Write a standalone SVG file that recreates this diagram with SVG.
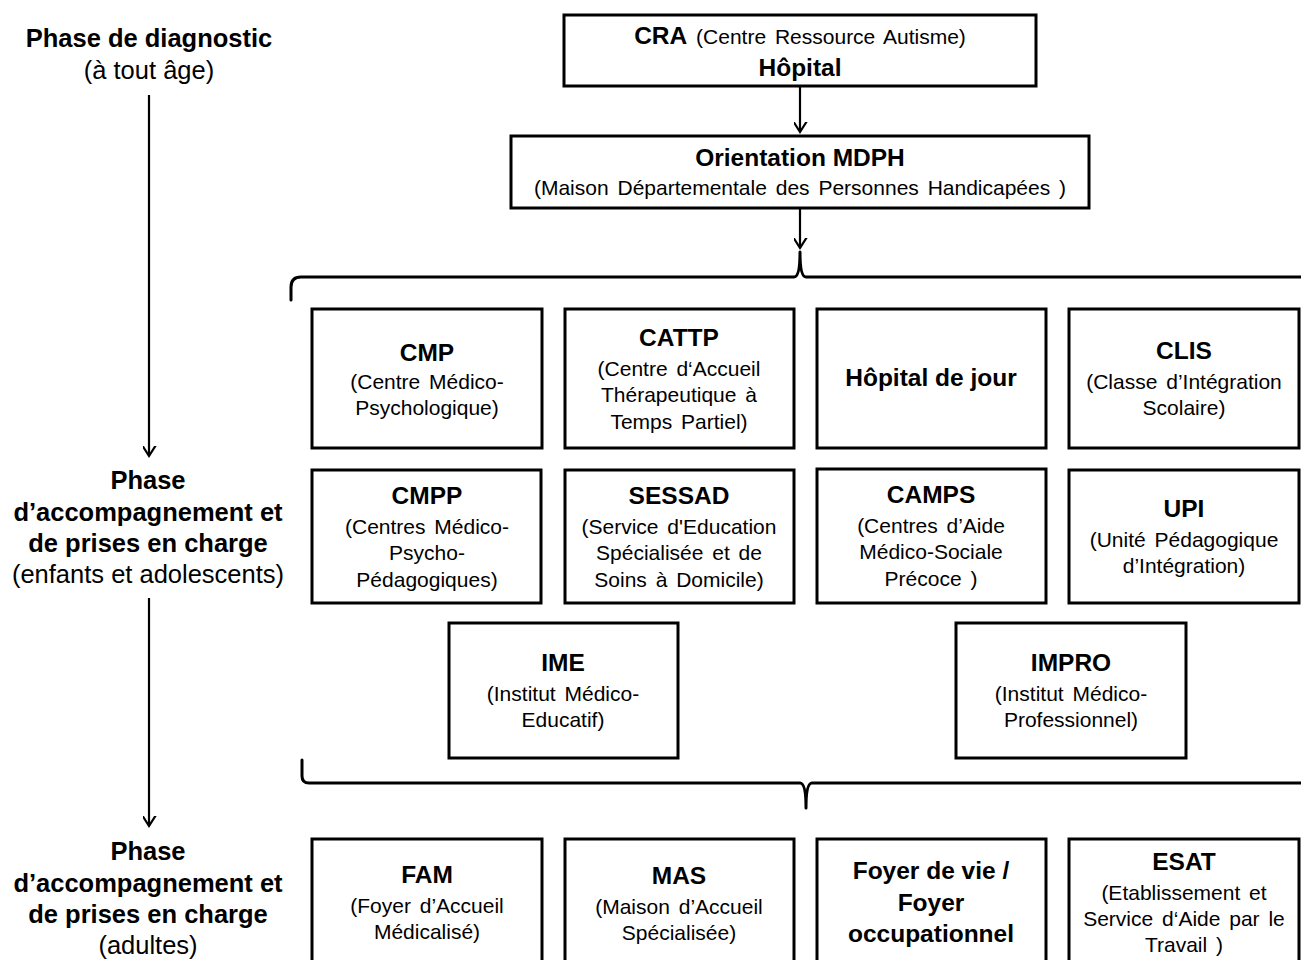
<svg xmlns="http://www.w3.org/2000/svg" width="1301" height="960" viewBox="0 0 1301 960">
<defs>
<style>
text{font-family:"Liberation Sans",Arial,sans-serif;fill:#000;text-anchor:middle}
.b{font-weight:bold;font-size:24.5px}
.r{font-size:21px;word-spacing:3px}
.lb{font-weight:bold;font-size:25.5px}
.lr{font-size:25.5px}
.box{fill:#fff;stroke:#000;stroke-width:3}
.ln{fill:none;stroke:#000;stroke-width:2.2}
.br{fill:none;stroke:#000;stroke-width:3;stroke-linecap:round;stroke-linejoin:round}
</style>
<marker id="arr" markerUnits="userSpaceOnUse" markerWidth="20" markerHeight="20" viewBox="-10 -14 20 20" refX="0" refY="0" orient="auto">
<path d="M-11,-7 L0,0 L-11,7" fill="none" stroke="#000" stroke-width="2.2" transform="rotate(0)"/>
</marker>
</defs>
<rect width="1301" height="960" fill="#fff"/>

<g id="phase1">
<text class="lb" x="149" y="47">Phase de diagnostic</text>
<text class="lr" x="149" y="79">(à tout âge)</text>
</g>
<g id="phase2">
<text class="lb" x="148" y="489">Phase</text>
<text class="lb" x="148" y="521">d’accompagnement et</text>
<text class="lb" x="148" y="552">de prises en charge</text>
<text class="lr" x="148" y="583">(enfants et adolescents)</text>
</g>
<g id="phase3">
<text class="lb" x="148" y="860">Phase</text>
<text class="lb" x="148" y="892">d’accompagnement et</text>
<text class="lb" x="148" y="923">de prises en charge</text>
<text class="lr" x="148" y="954">(adultes)</text>
</g>

<g id="connectors">
<line class="ln" x1="149" y1="95" x2="149" y2="456" marker-end="url(#arr)"/>
<line class="ln" x1="149" y1="598" x2="149" y2="826" marker-end="url(#arr)"/>
<line class="ln" x1="800" y1="87" x2="800" y2="132" marker-end="url(#arr)"/>
<line class="ln" x1="800" y1="209" x2="800" y2="248" marker-end="url(#arr)"/>
<path class="br" d="M291,300 L291,287 Q291,277 301,277 L794,277 Q800,277 800,252 Q800,277 806,277 L1302,277"/>
<path class="br" d="M302,760 L302,776 Q302,783 309,783 L800,783 Q806,783 806,808 Q806,783 812,783 L1302,783"/>
</g>

<g id="cra">
<rect class="box" x="564" y="15" width="472" height="71"/>
<text x="800" y="44"><tspan class="b">CRA</tspan><tspan class="r"> (Centre Ressource Autisme)</tspan></text>
<text class="b" x="800" y="76">Hôpital</text>
</g>
<g id="mdph">
<rect class="box" x="511" y="136" width="578" height="72"/>
<text class="b" x="800" y="166">Orientation MDPH</text>
<text class="r" x="800" y="195">(Maison Départementale des Personnes Handicapées )</text>
</g>

<g id="cmp">
<rect class="box" x="312" y="309" width="230" height="139"/>
<text class="b" x="427" y="361">CMP</text>
<text class="r" x="427" y="389">(Centre Médico-</text>
<text class="r" x="427" y="415">Psychologique)</text>
</g>
<g id="cattp">
<rect class="box" x="565" y="309" width="229" height="139"/>
<text class="b" x="679" y="346">CATTP</text>
<text class="r" x="679" y="376">(Centre d‘Accueil</text>
<text class="r" x="679" y="402">Thérapeutique  à</text>
<text class="r" x="679" y="429">Temps  Partiel)</text>
</g>
<g id="hdj">
<rect class="box" x="817" y="309" width="229" height="139"/>
<text class="b" x="931" y="386">Hôpital de jour</text>
</g>
<g id="clis">
<rect class="box" x="1069" y="309" width="230" height="139"/>
<text class="b" x="1184" y="359">CLIS</text>
<text class="r" x="1184" y="389">(Classe d’Intégration</text>
<text class="r" x="1184" y="415">Scolaire)</text>
</g>

<g id="cmpp">
<rect class="box" x="312" y="470" width="229" height="133"/>
<text class="b" x="427" y="504">CMPP</text>
<text class="r" x="427" y="534">(Centres Médico-</text>
<text class="r" x="427" y="560">Psycho-</text>
<text class="r" x="427" y="587">Pédagogiques)</text>
</g>
<g id="sessad">
<rect class="box" x="565" y="470" width="229" height="133"/>
<text class="b" x="679" y="504">SESSAD</text>
<text class="r" x="679" y="534">(Service d'Education</text>
<text class="r" x="679" y="560">Spécialisée et de</text>
<text class="r" x="679" y="587">Soins à Domicile)</text>
</g>
<g id="camps">
<rect class="box" x="817" y="469" width="229" height="134"/>
<text class="b" x="931" y="503">CAMPS</text>
<text class="r" x="931" y="533">(Centres d’Aide</text>
<text class="r" x="931" y="559">Médico-Sociale</text>
<text class="r" x="931" y="586">Précoce )</text>
</g>
<g id="upi">
<rect class="box" x="1069" y="470" width="230" height="133"/>
<text class="b" x="1184" y="517">UPI</text>
<text class="r" x="1184" y="547">(Unité Pédagogique</text>
<text class="r" x="1184" y="573">d’Intégration)</text>
</g>

<g id="ime">
<rect class="box" x="449" y="623" width="229" height="135"/>
<text class="b" x="563" y="671">IME</text>
<text class="r" x="563" y="701">(Institut Médico-</text>
<text class="r" x="563" y="727">Educatif)</text>
</g>
<g id="impro">
<rect class="box" x="956" y="623" width="230" height="135"/>
<text class="b" x="1071" y="671">IMPRO</text>
<text class="r" x="1071" y="701">(Institut Médico-</text>
<text class="r" x="1071" y="727">Professionnel)</text>
</g>

<g id="fam">
<rect class="box" x="312" y="839" width="230" height="140"/>
<text class="b" x="427" y="883">FAM</text>
<text class="r" x="427" y="913">(Foyer d’Accueil</text>
<text class="r" x="427" y="939">Médicalisé)</text>
</g>
<g id="mas">
<rect class="box" x="565" y="839" width="229" height="140"/>
<text class="b" x="679" y="884">MAS</text>
<text class="r" x="679" y="914">(Maison d’Accueil</text>
<text class="r" x="679" y="940">Spécialisée)</text>
</g>
<g id="foyer">
<rect class="box" x="817" y="839" width="229" height="140"/>
<text class="b" x="931" y="879">Foyer de vie /</text>
<text class="b" x="931" y="911">Foyer</text>
<text class="b" x="931" y="942">occupationnel</text>
</g>
<g id="esat">
<rect class="box" x="1069" y="839" width="230" height="140"/>
<text class="b" x="1184" y="870">ESAT</text>
<text class="r" x="1184" y="900">(Etablissement  et</text>
<text class="r" x="1184" y="926">Service d‘Aide par le</text>
<text class="r" x="1184" y="952">Travail  )</text>
</g>
</svg>
